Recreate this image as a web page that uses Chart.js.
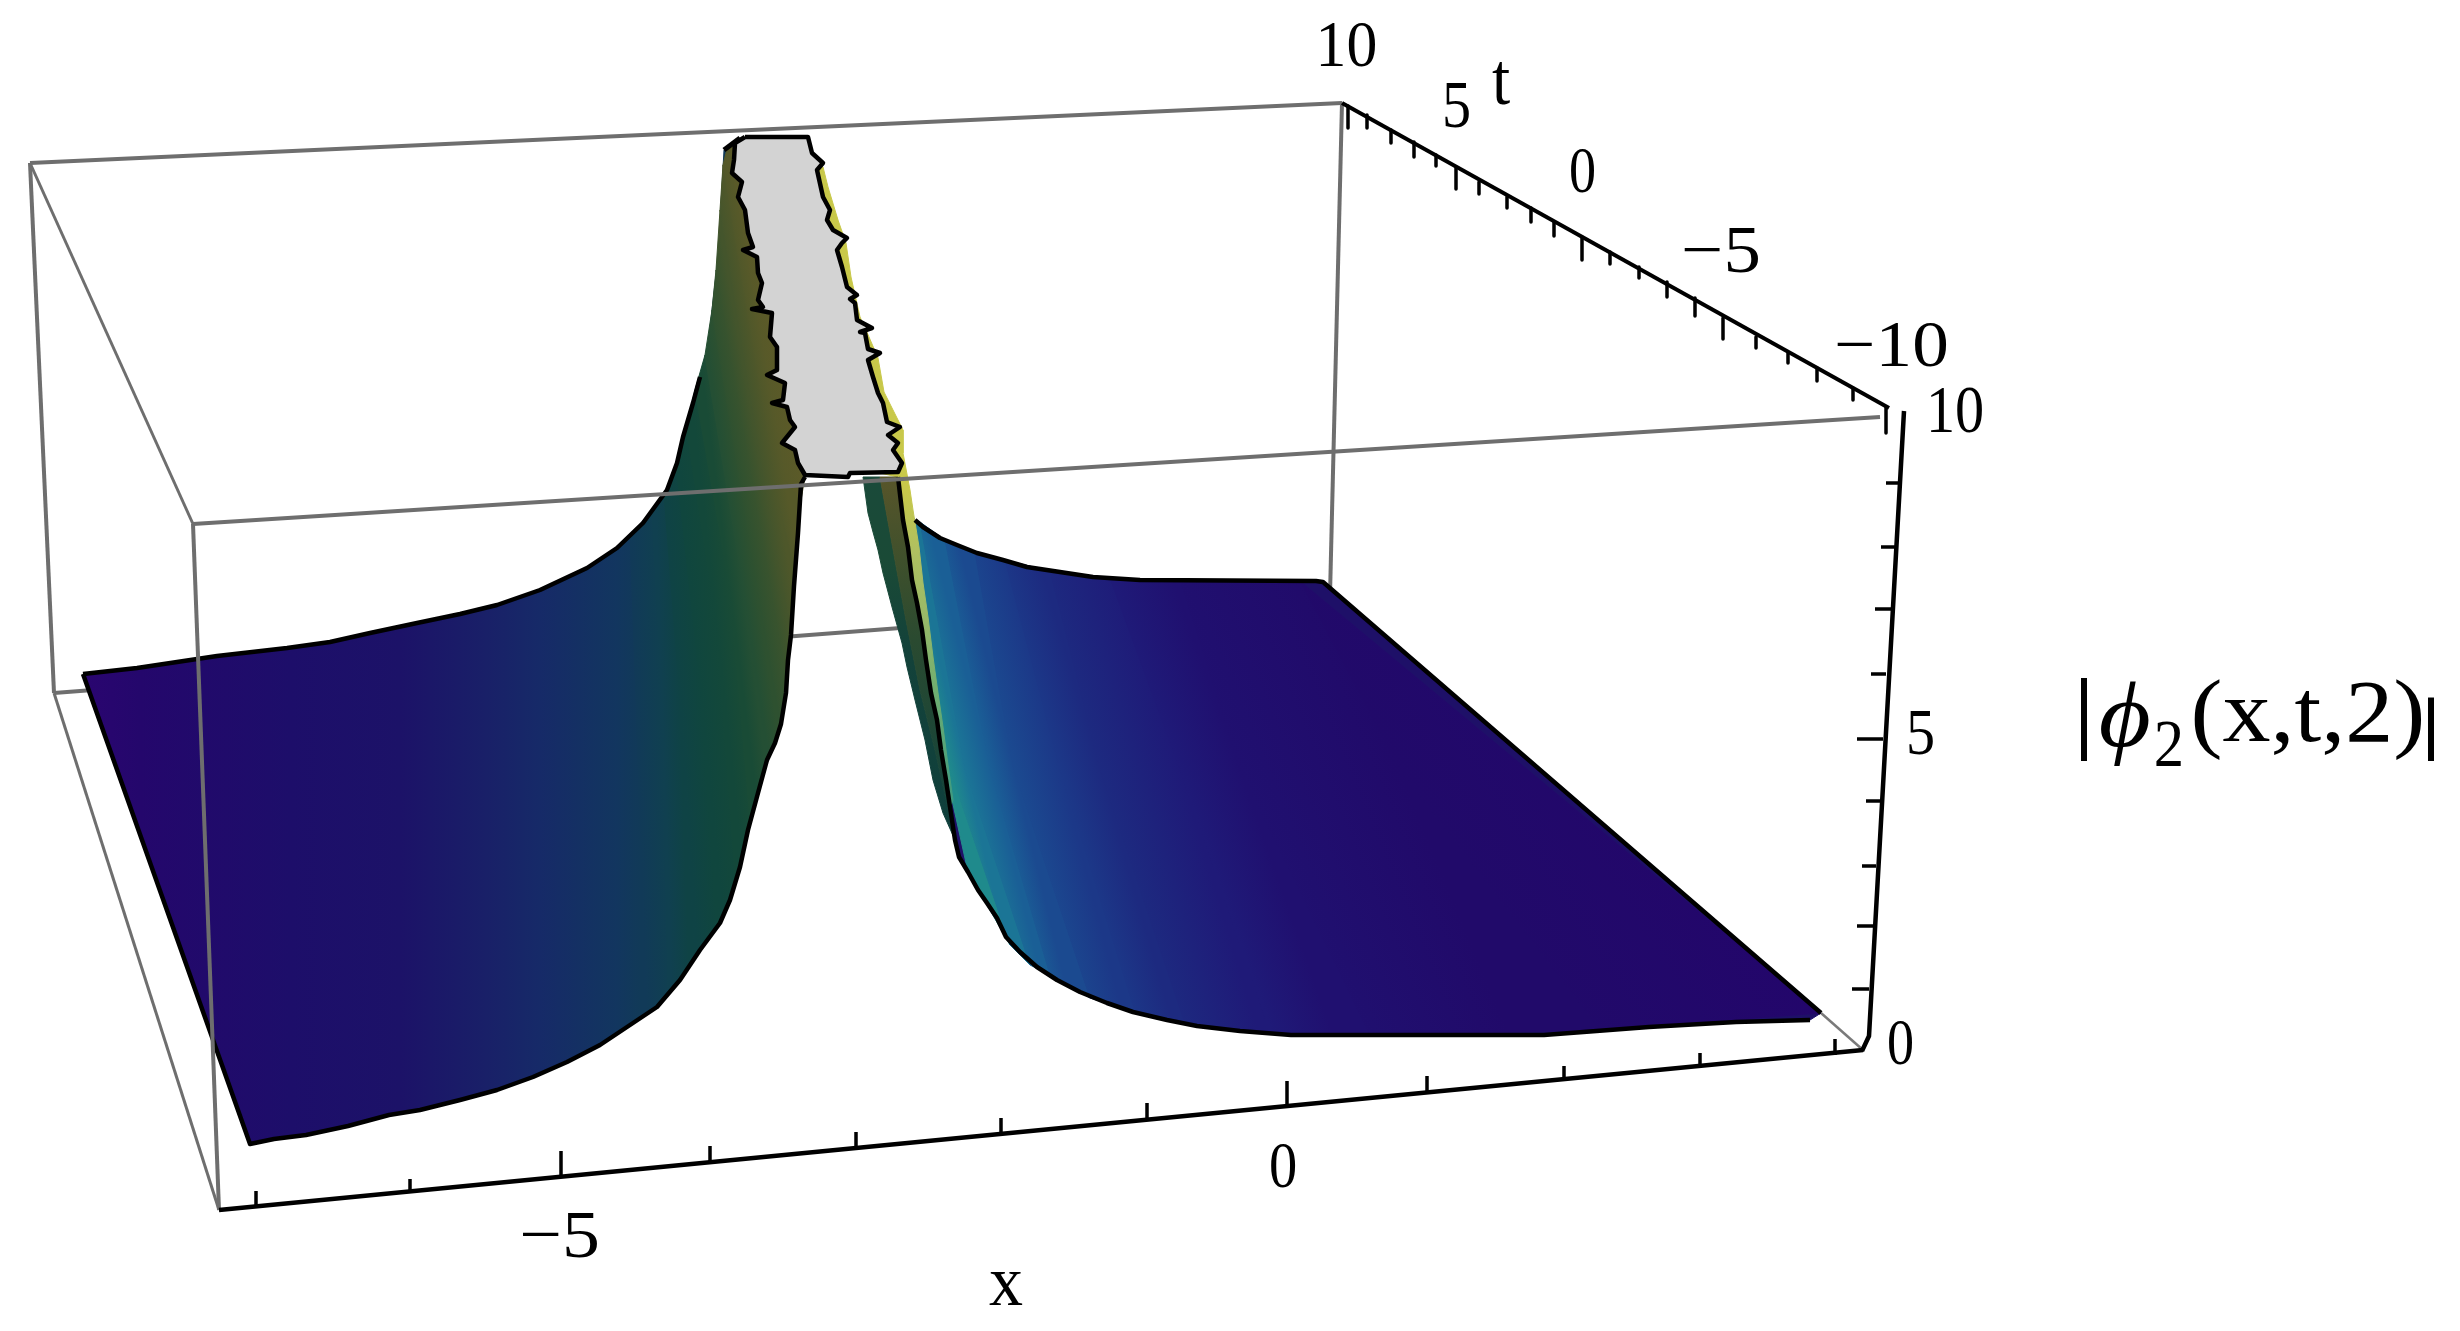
<!DOCTYPE html>
<html>
<head>
<meta charset="utf-8">
<style>html,body{margin:0;padding:0;background:#fff}canvas{display:block}</style>
<script src="https://cdn.jsdelivr.net/npm/chart.js@4/dist/chart.umd.js"></script>
</head>
<body>
<canvas id="c" width="2460" height="1331"></canvas>
<script>
// ---- box edges
const boxA=[30,163], boxH=[1342,103], boxG=[1330,595], boxB=[54,693];
const boxD=[193,524], boxC=[219,1210], boxE=[1880,417], boxF=[1863,1050], boxTip=[1821,1013];
// ---- axis ticks: [position along axis, from, to]
const xTickX=[256,410,561,710,856,1001,1147,1287,1427,1564,1700,1835];
const xTickFrom=[1207,1193,1177,1163,1149,1135,1121,1108,1094,1081,1068,1055];
const xTickTo=[1191,1179,1151,1146,1132,1118,1103,1081,1076,1066,1053,1039];
const tTickX=[1348,1367,1391,1414,1436,1456,1479,1507,1531,1554,1582,1610,1639,1667,1695,1723,1756,1788,1817,1853,1886];
const tTickFrom=[106,115,130,142,155,168,182,197,208,222,237,252,267,282,298,318,337,353,368,388,407];
const tTickTo=[128,128,143,157,166,189,194,208,222,236,260,264,278,297,316,339,348,363,381,400,433];
const zTickY=[483,547,609,674,739,801,866,926,989];
const zTickFrom=[1886,1881,1875,1871,1857,1866,1862,1857,1852];
const zTickTo=[1898,1895,1891,1886,1883,1880,1876,1873,1869];
const zAxisX=[1904,1869,1862], zAxisY=[411,1036,1051];
// ---- left sheet outline
const leftBackX=[83,137,217,287,330,370,417,460,497,540,587,617,643,667,677,683,693,700];
const leftBackY=[674,668,656,648,642,633,623,614,605,590,568,548,523,490,463,437,403,377];
const leftPeakX=[708,718,724,740], leftPeakY=[346,256,150,138];
const leftFrontX=[805,801,798,794,791,788,786,781,775,767,758,748,740,730,720,700,680,657,627,600,567,533,497,460,420,389,348,306,274,250];
const leftFrontY=[477,484,533,586,635,660,693,724,743,760,793,830,867,900,923,950,980,1007,1027,1045,1062,1077,1090,1100,1110,1115,1126,1135,1139,1144];
const leftBaseStops=[83,140,290,400,487,540,617,640,800];
const leftBaseColors=['#2a0570','#24076c','#1d0e6a','#1c1268','#192068','#162a68','#12365f','#113a58','#113a58'];
// iso-colour lines on the left sheet: top, middle, bottom point
const leftIsoX=[[630,636,645],[652,662,668],[664,680,695],[676,702,720],[686,716,735],[695,730,750],[705,742,767],[712,752,781],[716,762,786],[720,770,790],[723,778,795],[728,785,801],[745,805,805]];
const leftIsoY=[[536,700,1015],[510,700,995],[494,700,957],[465,700,923],[427,620,878],[390,590,820],[355,580,760],[310,560,724],[270,540,680],[210,520,625],[165,500,570],[145,480,500],[137,475,477]];
const leftIsoColors=['#113a58','#104050','#0f4345','#10463e','#13483a','#194b36','#244f34','#2e5130','#38532e','#44552c','#4e572a','#565929','#5c5a28'];
// ---- right sheet outline
const rightTopX=[898,903,915,923,940,957,977,1003,1027,1060,1093,1140,1316,1323,1821];
const rightTopY=[477,500,520,527,538,545,553,560,567,572,577,580,581,582,1013];
const rightLowX=[1810,1736,1649,1544,1291,1240,1197,1167,1133,1107,1080,1057,1037,1020,1006,997,987,978,968,959,955];
const rightLowY=[1020,1022,1027,1035,1035,1031,1026,1020,1012,1003,992,980,967,952,937,918,903,890,872,857,840];
const blackX=[950,946,941,937,931,926,922,917,912,908,903,898];
const blackY=[807,780,750,720,693,660,630,603,580,547,520,477];
const rightIsoX=[[903,941,968],[912,950,1010],[920,965,1030],[945,990,1050],[975,1013,1090],[1005,1060,1135],[1050,1100,1185],[1110,1180,1270],[1180,1240,1370],[1300,1400,1600],[1821,1821,1821]];
const rightIsoY=[[500,750,872],[522,770,945],[522,770,965],[540,770,975],[553,767,998],[560,770,1012],[571,770,1024],[578,770,1033],[580,770,1035],[581,770,1030],[1013,1013,1013]];
const rightIsoColors=['#2a9285','#1f8a8c','#1b7596','#1a5f96','#1b4a90','#1c3888','#1d2a80','#1f1a78','#201070','#210a6a','#23066b'];
// ---- light rim beside the ridge
const rimX=[805,823,828,838,846,851,860,866,878,884,903,903,910,913,919,923,928,933,938,943,948,953,950,946,941,937,931,926,922,917,912,908,903,898,875,835];
const rimY=[160,167,187,220,243,277,317,330,358,392,430,453,490,510,547,583,617,657,693,727,765,800,807,780,750,720,693,660,630,603,580,547,520,477,472,290];
const rimStopY=[170,490,550,620,690,800];
const rimColors=['#c8c84a','#c8c84a','#b0c060','#98b868','#70ae70','#3f9a80'];
// ---- inner face of the ridge
const innerLeftX=[863,880,895,906,920,935,955,943,933,925,920,915,907,902,897,892,887,883,878,873,868];
const innerLeftY=[477,477,560,620,690,750,840,813,780,740,720,700,667,643,625,607,588,573,550,532,513];
const innerRightX=[880,898,903,908,912,917,922,926,931,937,941,946,950,955,935,920,906,895];
const innerRightY=[477,477,520,547,580,603,630,660,693,720,750,780,807,840,750,690,620,560];
const innerLeftStopY=[480,560,650,850], innerLeftColors=['#1a4a3a','#1a4a36','#13423a','#0f3f3c'];
const innerRightStopY=[480,560,640,800], innerRightColors=['#57552a','#3f502c','#2a4a30','#14433a'];
// ---- clipped top of the surface
const capX=[745,735,734,732,742,738,745,748,753,743,757,758,762,758,763,752,772,770,777,777,767,785,783,772,787,790,795,782,795,798,805,848,850,898,902,893,898,888,900,887,883,878,873,868,880,868,865,860,872,857,855,850,857,847,842,837,842,847,833,827,830,823,817,823,812,808];
const capY=[137,143,160,173,182,197,210,233,247,250,257,273,283,300,307,309,313,337,347,370,375,383,400,403,407,420,427,443,450,463,475,477,473,472,463,450,443,435,427,422,403,393,377,360,353,349,333,332,328,320,303,299,295,287,267,250,243,238,230,220,210,197,170,163,153,137];
// ---- text
const labelText=['10','5','t','0','\u22125','\u221210','10','5','0','\u22125','0','x','|','\u03D5','2','(x,t,2)','|'];
const labelLeft=[1321,1445,1492,1571,1684,1837,1931,1909,1889,522,1271,989,2081,2100,2156,2194,2428];
const labelTop=[22,83,63,148,228,322,387,711,1020,1212,1143,1272,677,681,720,679,697];
const labelRight=[1375,1469,1510,1594,1758,1946,1982,1933,1912,597,1295,1023,2087,2149,2181,2422,2434];
const labelBottom=[67,128,105,193,273,367,433,755,1065,1258,1188,1305,761,766,766,761,761];
const labelItalic=[0,0,0,0,0,0,0,0,0,0,0,0,0,1,0,0,0];

const grid={display:false};
const ds=[];
const pts=(xs,ys)=>xs.map((x,i)=>({x,y:ys[i]}));
const closed=(xs,ys)=>{const p=pts(xs,ys);p.push(p[0]);return p;};
function line(p,color,w){ds.push({data:p,showLine:true,borderColor:color,borderWidth:w,pointRadius:0,fill:false,tension:0,borderCapStyle:'butt',borderJoinStyle:'round'});}
function poly(p,fillC,edgeC,w){ds.push({data:p,showLine:true,backgroundColor:fillC,borderColor:edgeC===undefined?fillC:edgeC,borderWidth:w===undefined?1:w,pointRadius:0,fill:'shape',tension:0,borderJoinStyle:'round'});}
const seg=(a,b)=>[{x:a[0],y:a[1]},{x:b[0],y:b[1]}];
function ticks(pairs,color,w){const p=[];pairs.forEach(([a,b])=>{p.push(...seg(a,b),{x:NaN,y:NaN});});line(p,color,w);}
// gradient between two plane points, via the chart's scales
function grad(c,x0,y0,x1,y1,stops,colors){
  const {x,y}=c.chart.scales;
  const p=[x.getPixelForValue(x0),y.getPixelForValue(y0),x.getPixelForValue(x1),y.getPixelForValue(y1)];
  if(!p.every(Number.isFinite)) return colors[0];
  const g=c.chart.ctx.createLinearGradient(p[0],p[1],p[2],p[3]);
  const a=stops[0],b=stops[stops.length-1];
  stops.forEach((s,i)=>g.addColorStop((s-a)/(b-a),colors[i]));
  return g;
}
const gradH=(stops,colors)=>c=>grad(c,stops[0],0,stops[stops.length-1],0,stops,colors);
const gradV=(stops,colors)=>c=>grad(c,0,stops[0],0,stops[stops.length-1],stops,colors);
function strips(isoX,isoY,colors){
  for(let i=0;i<isoX.length-1;i++){
    const xs=[...isoX[i],...[...isoX[i+1]].reverse()],ys=[...isoY[i],...[...isoY[i+1]].reverse()];
    const ax=isoX[i][1],ay=isoY[i][1],bx=isoX[i+1][1],by=isoY[i+1][1];
    const dx=isoX[i][2]-isoX[i][0],dy=isoY[i][2]-isoY[i][0];
    const nx=dy,ny=-dx,k=((bx-ax)*nx+(by-ay)*ny)/(nx*nx+ny*ny);
    const c0=colors[i],c1=colors[i+1];
    poly(closed(xs,ys),c=>grad(c,ax,ay,ax+nx*k,ay+ny*k,[0,1],[c0,c1]));
  }
}
// back of the box
line(seg(boxA,boxH),'#6e6e6e',4);
line(seg(boxH,boxG),'#6e6e6e',4);
line(seg(boxB,boxG),'#6e6e6e',4);
line(seg(boxA,boxB),'#6e6e6e',4);
line(seg(boxB,boxC),'#6e6e6e',3);
line(seg(boxA,boxD),'#6e6e6e',3);
line(seg(boxTip,boxF),'#7a7a7a',2.5);
// right sheet
const rightX=[...rightTopX,...rightLowX],rightY=[...rightTopY,...rightLowY];
poly(closed(rightX,rightY),'#1e1068');
strips(rightIsoX,rightIsoY,rightIsoColors);
poly(closed(rimX,rimY),gradV(rimStopY,rimColors));
poly(closed(innerLeftX,innerLeftY),gradV(innerLeftStopY,innerLeftColors));
poly(closed(innerRightX,innerRightY),gradV(innerRightStopY,innerRightColors));
line(pts(rightTopX.slice(2),rightTopY.slice(2)),'#000',4.5);
line(pts(rightLowX,rightLowY).concat(pts(blackX,blackY)),'#000',4.5);
// left sheet
const leftX=[...leftBackX,...leftPeakX,...leftFrontX],leftY=[...leftBackY,...leftPeakY,...leftFrontY];
poly(closed(leftX,leftY),gradH(leftBaseStops,leftBaseColors));
strips(leftIsoX,leftIsoY,leftIsoColors);
line(pts(leftBackX,leftBackY),'#000',4.5);
line(pts(leftFrontX,leftFrontY).concat([{x:leftBackX[0],y:leftBackY[0]}]),'#000',4.5);
line(pts(leftPeakX.slice(2),leftPeakY.slice(2)),'#000',5);
// cap
poly(closed(capX,capY),'#d3d3d3','#000',4.5);
// front of the box
line(seg(boxD,boxC),'#6e6e6e',4);
line(seg(boxD,boxE),'#6e6e6e',4);
line(seg(boxC,boxF),'#000',4.5);
line(pts(zAxisX,zAxisY),'#000',4.5);
line(seg(boxH,[1889,408]),'#000',4);
ticks(xTickX.map((x,i)=>[[x,xTickFrom[i]],[x,xTickTo[i]]]),'#000',3.5);
ticks(tTickX.map((x,i)=>[[x,tTickFrom[i]],[x,tTickTo[i]]]),'#000',3.5);
ticks(zTickY.map((y,i)=>[[zTickFrom[i],y],[zTickTo[i],y]]),'#000',3.5);
ds.forEach((d,i)=>{d.order=ds.length-i;});

const textPlugin={id:'plainText',afterDatasetsDraw(chart){
  const ctx=chart.ctx,{x,y}=chart.scales;
  labelText.forEach((t,i)=>{
    ctx.save();
    ctx.font=(labelItalic[i]?'italic ':'')+'80px "Liberation Serif"';
    ctx.textAlign='left';ctx.textBaseline='alphabetic';ctx.fillStyle='#000';
    const m=ctx.measureText(t);
    const L=x.getPixelForValue(labelLeft[i]),R=x.getPixelForValue(labelRight[i]),T=y.getPixelForValue(labelTop[i]),B=y.getPixelForValue(labelBottom[i]);
    const sx=(R-L)/(m.actualBoundingBoxLeft+m.actualBoundingBoxRight),sy=(B-T)/(m.actualBoundingBoxAscent+m.actualBoundingBoxDescent);
    ctx.translate(L+m.actualBoundingBoxLeft*sx,T+m.actualBoundingBoxAscent*sy);
    ctx.scale(sx,sy);
    ctx.fillText(t,0,0);
    ctx.restore();
  });
}};
new Chart(document.getElementById('c'),{
  type:'scatter',
  data:{datasets:ds},
  options:{responsive:false,animation:false,events:[],
    layout:{padding:0},
    plugins:{legend:{display:false},tooltip:{enabled:false},title:{display:false}},
    scales:{
      x:{type:'linear',min:0,max:2460,display:false,grid},
      y:{type:'linear',min:0,max:1331,reverse:true,display:false,grid}
    }},
  plugins:[textPlugin]
});
</script>
</body>
</html>
